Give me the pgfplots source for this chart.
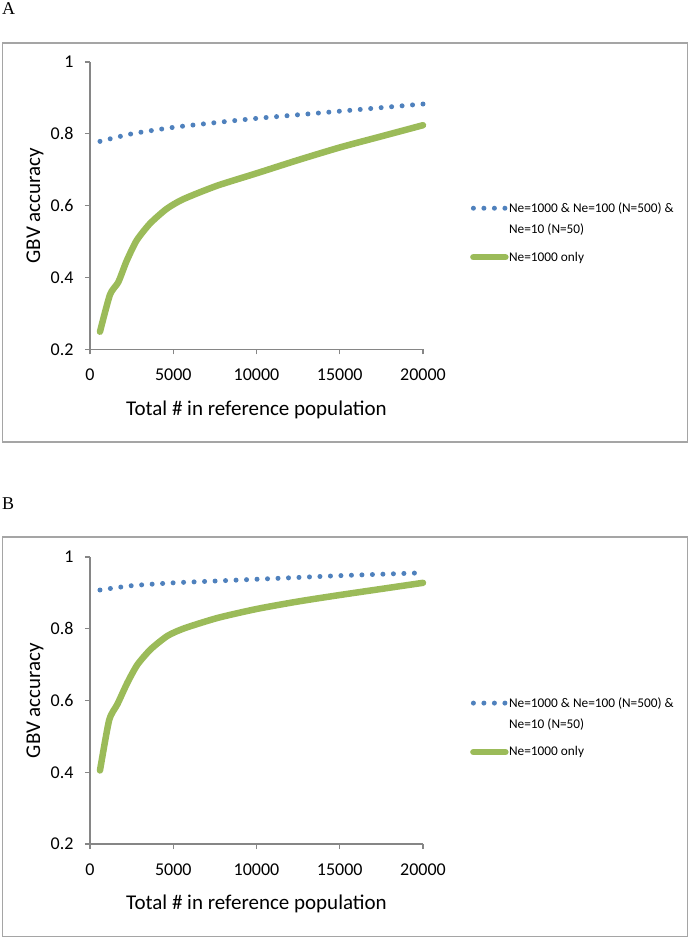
\documentclass[border=0pt]{standalone}
\usepackage{fontspec}
\setmainfont{Carlito}
\newfontfamily\serif{Liberation Serif}
\usepackage{pgfplots}
\pgfplotsset{compat=1.18}
\definecolor{xlblue}{RGB}{79,129,189}
\definecolor{xlgreen}{RGB}{155,187,89}
\definecolor{axgray}{RGB}{134,134,134}
\definecolor{frgray}{RGB}{165,165,165}

\pgfplotstableread{
N acc
600 0.779
2500 0.800
5000 0.818
7500 0.831
10000 0.843
12500 0.853
15000 0.863
17500 0.873
20000 0.883
}\blueA
\pgfplotstableread{
N acc
600 0.249
1200 0.352
1700 0.387
2200 0.446
2800 0.503
3600 0.550
4600 0.591
5600 0.618
7600 0.655
10000 0.690
12500 0.727
15000 0.762
17500 0.793
20000 0.824
}\greenA
\pgfplotstableread{
N acc
600 0.908
2500 0.920
5000 0.928
7500 0.933
10000 0.938
12500 0.943
15000 0.948
17500 0.952
20000 0.956
}\blueB
\pgfplotstableread{
N acc
600 0.405
1150 0.545
1650 0.590
2250 0.650
2850 0.700
3650 0.743
4650 0.780
5650 0.801
7650 0.830
10000 0.855
12500 0.876
15000 0.894
17500 0.911
20000 0.928
}\greenB

\newcommand{\firstentry}{\vtop{\baselineskip=21pt\hbox{Ne=1000 \& Ne=100 (N=500) \&}\hbox{Ne=10 (N=50)}}}

\pgfplotsset{
  panel/.style={
    scale only axis,
    width=333pt,
    xmin=0, xmax=20000,
    ymin=0.2, ymax=1,
    axis x line*=bottom,
    axis y line*=left,
    axis line style={-, draw=axgray, line width=1.1pt},
    tick style={draw=axgray, line width=1.1pt},
    major tick length=5pt,
    tick align=outside,
    xtick={0,5000,10000,15000,20000},
    ytick={0.2,0.4,0.6,0.8,1},
    scaled x ticks=false,
    /pgf/number format/1000 sep={},
    /pgf/number format/assume math mode=true,
    tick label style={font=\fontsize{18}{21}\selectfont},
    xticklabel style={yshift=-11pt},
    yticklabel style={xshift=-8pt},
    label style={font=\fontsize{21}{25}\selectfont},
    xlabel={Total \# in reference population},
    ylabel={GBV accuracy},
    xlabel style={at={(axis description cs:0.5,-0.21)}, anchor=center},
    ylabel style={at={(axis description cs:-0.165,0.5)}, anchor=center, rotate=0},
    clip=false,
    legend style={draw=none, fill=none, inner sep=0pt,
      font=\fontsize{13.3}{20}\selectfont,
      at={(axis description cs:1.141,0.513)}, anchor=north west,
      row sep=37pt,
      nodes={inner sep=0.5pt}},
    legend cell align=left,
  },
  dotline/.style={xlblue, line width=5pt, line cap=round, dash pattern=on 0pt off 10.5pt},
  greenline/.style={xlgreen, line width=6.5pt, line cap=round, line join=round},
}

\begin{document}
\begin{tikzpicture}
\useasboundingbox (0,0) rectangle (690pt,938pt);
\draw[frgray, line width=1.3pt] (2.5pt,496pt) rectangle (687.5pt,895pt);
\draw[frgray, line width=1.3pt] (2.5pt,1.5pt) rectangle (687.5pt,401pt);
\node[anchor=west, inner sep=0pt, font=\serif\fontsize{18}{20}\selectfont] at (2pt,929.5pt) {A};
\node[anchor=west, inner sep=0pt, font=\serif\fontsize{18}{20}\selectfont] at (2pt,434.5pt) {B};

\begin{axis}[panel, at={(90pt,588.7pt)}, anchor=south west, height=287.3pt,
  legend image code/.code={\draw[#1] (0pt,0pt) -- (32pt,0pt);}]
\addplot[dotline, smooth, tension=0.4] table[x=N,y=acc] {\blueA};
\addlegendentry{\firstentry}
\addplot[greenline, smooth, tension=0.4] table[x=N,y=acc] {\greenA};
\addlegendentry{Ne=1000 only}
\end{axis}

\begin{axis}[panel, at={(90pt,94pt)}, anchor=south west, height=287pt,
  legend image code/.code={\draw[#1] (0pt,0pt) -- (32pt,0pt);}]
\addplot[dotline, smooth, tension=0.4] table[x=N,y=acc] {\blueB};
\addlegendentry{\firstentry}
\addplot[greenline, smooth, tension=0.4] table[x=N,y=acc] {\greenB};
\addlegendentry{Ne=1000 only}
\end{axis}
\end{tikzpicture}
\end{document}
